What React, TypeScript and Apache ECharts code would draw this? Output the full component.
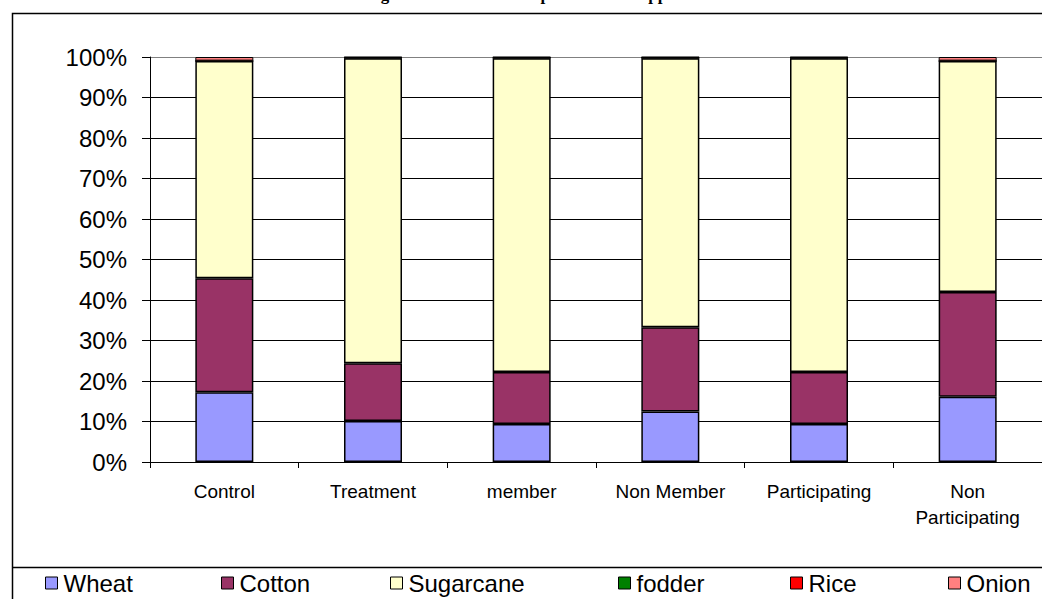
import React, { useEffect, useRef } from "react";
import * as echarts from "echarts";

const categories = ["Control", "Treatment", "member", "Non Member", "Participating", "Non\nParticipating"];
const seriesNames = ["Wheat", "Cotton", "Sugarcane", "fodder", "Rice", "Onion"];
const wheat = [17.2, 10.1, 9.4, 12.5, 9.4, 16.1];
const cotton = [28.2, 14.3, 12.8, 20.8, 12.8, 25.9];
const sugarcane = [53.6, 75.3, 77.5, 66.4, 77.5, 57.0];
const fodder = [0.05, 0.1, 0.1, 0.1, 0.1, 0.05];
const rice = [0.05, 0.1, 0.1, 0.1, 0.1, 0.05];
const onion = [0.9, 0.1, 0.1, 0.1, 0.1, 0.9];
const colors = ["#9999FF", "#993366", "#FFFFCC", "#008000", "#FF0000", "#FF8080"];
const legendLeft = [45, 221, 390, 618, 790, 948];
const title = "Percentage Distribution of Crops in Total Cropped Area";

export default function App() {
  const ref = useRef<HTMLDivElement>(null);
  useEffect(() => {
    if (!ref.current) return;
    const chart = echarts.init(ref.current, null, { renderer: "svg" });
    const data = [wheat, cotton, sugarcane, fodder, rice, onion];
    const splitColors = ["#000", "#000", "#000", "#000", "#000", "#000", "#000", "#000", "#000", "#000", "#808080"];
    chart.setOption({
      animation: false,
      backgroundColor: "#fff",
      textStyle: { fontFamily: "Liberation Sans, Arial, sans-serif" },
      grid: { left: 150, top: 57, width: 896, height: 405, containLabel: false },
      xAxis: {
        type: "category",
        data: categories,
        axisLine: { show: true, lineStyle: { color: "#000", width: 1 } },
        axisTick: { show: true, length: 6, lineStyle: { color: "#000" } },
        axisLabel: { color: "#000", fontSize: 19, margin: 16, lineHeight: 26, interval: 0 },
      },
      yAxis: {
        type: "value",
        min: 0,
        max: 100,
        interval: 10,
        axisLine: { show: true, lineStyle: { color: "#000", width: 1 } },
        axisTick: { show: true, length: 8, lineStyle: { color: "#000" } },
        axisLabel: { color: "#000", fontSize: 24, margin: 23, formatter: "{value}%" },
        splitLine: { show: true, lineStyle: { color: splitColors, width: 1 } },
      },
      legend: seriesNames.map((n, i) => ({
        data: [n],
        left: legendLeft[i],
        top: 571,
        itemWidth: 12,
        itemHeight: 12,
        icon: "rect",
        itemGap: 0,
        padding: 0,
        selectedMode: false,
        itemStyle: { borderColor: "#000", borderWidth: 1 },
        textStyle: { color: "#000", fontSize: 24, padding: [0, 0, 0, 1] },
      })),
      graphic: [
        {
          type: "rect",
          shape: { x: 12.5, y: 13.5, width: 1040, height: 600 },
          style: { fill: "none", stroke: "#000", lineWidth: 1.5 },
          z: 100,
        },
        {
          type: "line",
          shape: { x1: 12, y1: 567.5, x2: 1042, y2: 567.5 },
          style: { stroke: "#000", lineWidth: 1.5 },
          z: 100,
        },
        {
          type: "text",
          x: 520,
          y: 3,
          style: {
            text: title,
            fill: "#000",
            font: 'bold 17px "Liberation Serif", serif',
            textAlign: "center",
            textVerticalAlign: "bottom",
          },
        },
      ],
      series: seriesNames.map((n, i) => ({
        name: n,
        type: "bar",
        stack: "total",
        barWidth: 58,
        data: data[i],
        itemStyle: { color: colors[i], borderColor: "#000", borderWidth: i >= 3 ? 1 : 1.5 },
      })),
    });
    return () => chart.dispose();
  }, []);
  return <div ref={ref} style={{ position: "fixed", left: 0, top: 0, width: 1042, height: 599 }} />;
}
